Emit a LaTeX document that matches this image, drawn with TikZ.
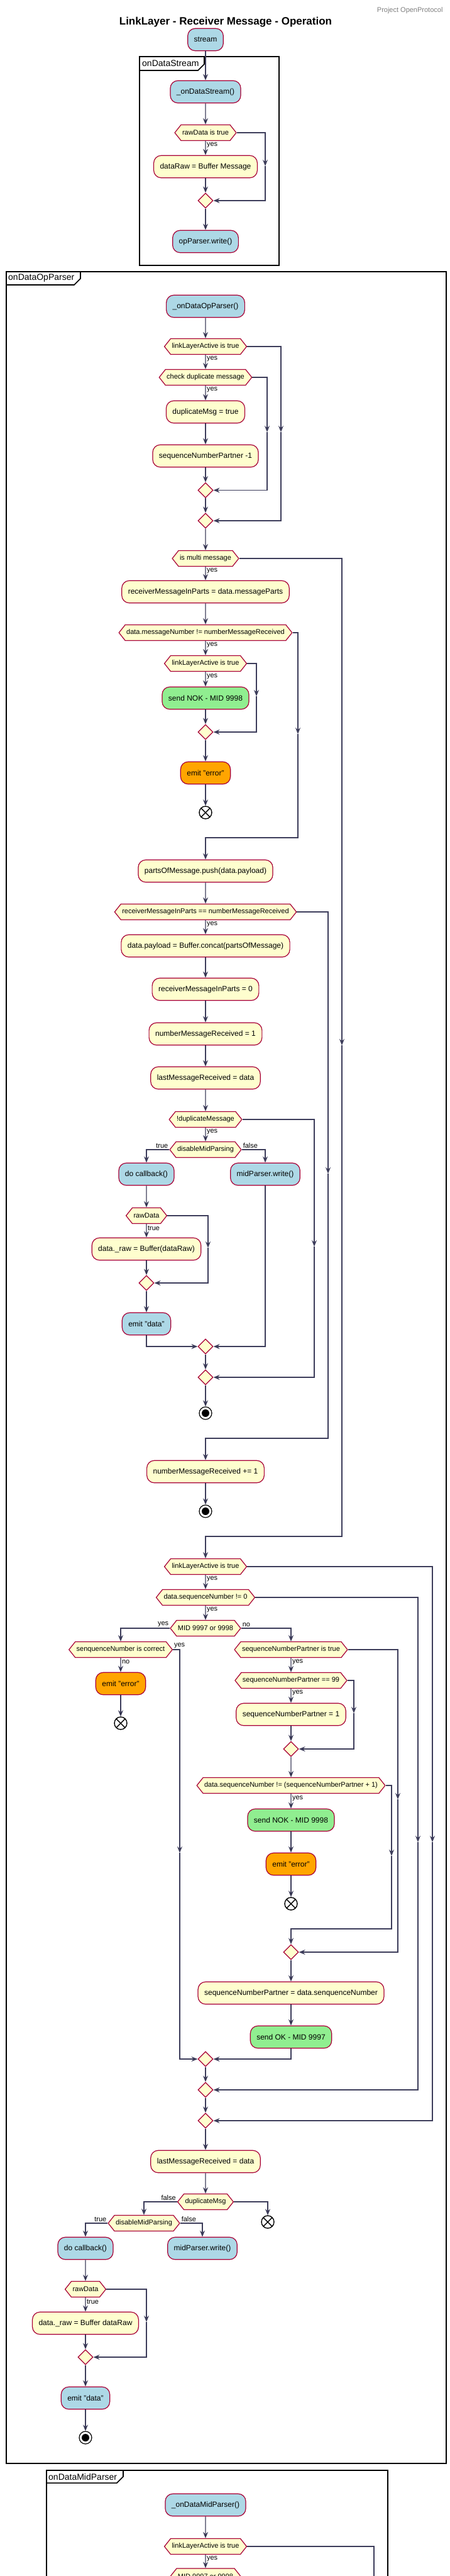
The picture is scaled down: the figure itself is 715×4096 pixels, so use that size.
\documentclass[tikz,border=0pt]{standalone}
\usepackage{fontspec}
\setmainfont{Liberation Sans}
\usetikzlibrary{arrows.meta}
\usetikzlibrary{shapes.geometric}
\usetikzlibrary{shapes.symbols}

\definecolor{bordc}{HTML}{A80036}
\definecolor{yelc}{HTML}{FEFECE}
\definecolor{bluec}{HTML}{ADD8E6}
\definecolor{greenc}{HTML}{90EE90}
\definecolor{orangec}{HTML}{FFA500}
\definecolor{linec}{HTML}{3C3C5A}

\begin{document}
\begin{tikzpicture}[
	x=1pt, y=-1pt,
	font=\fontsize{12}{14}\selectfont
]
\tikzset{
    actnode/.style = {rectangle, rounded corners=12pt, draw=bordc, line width=1.2pt, fill=yelc, minimum height=35.5pt, inner xsep=10pt, inner ysep=0pt},
    bluenode/.style = {actnode, fill=bluec},
    greennode/.style = {actnode, fill=greenc},
    orangenode/.style = {actnode, fill=orangec},
    decnode/.style = {signal, signal to=east and west, signal pointer angle=103, draw=bordc, line width=1.2pt, fill=yelc, minimum height=25pt, inner xsep=2pt, inner ysep=0pt, font=\fontsize{11}{13}\selectfont},
    mrgnode/.style = {diamond, draw=bordc, line width=1.2pt, fill=yelc, minimum width=24pt, minimum height=24pt, inner sep=0pt},
    endnode/.style = {circle, draw=black, fill=white, line width=1.2pt, minimum size=20pt, inner sep=0pt, path picture={\fill[black] (path picture bounding box.center) circle (6pt);}},
    stopnode/.style = {circle, draw=black, fill=white, line width=1.4pt, minimum size=20pt, inner sep=0pt, path picture={\draw[line width=1.4pt] ([shift={(-7pt,-7pt)}]path picture bounding box.center) -- ([shift={(7pt,7pt)}]path picture bounding box.center) ([shift={(-7pt,7pt)}]path picture bounding box.center) -- ([shift={(7pt,-7pt)}]path picture bounding box.center);}},
    edgea/.style = {draw=linec, line width=1.2pt, -{Stealth[length=10pt,width=8pt,inset=3.5pt]}},
    edgel/.style = {draw=linec, line width=1.2pt},
    lab/.style = {font=\fontsize{11}{13}\selectfont, inner sep=1.5pt},
    framel/.style = {draw=black, line width=1.6pt},
    framelab/.style = {anchor=west, font=\fontsize{14}{16}\selectfont, inner sep=0pt}
}
\useasboundingbox (0,0) rectangle (715,4096);
\clip (0,0) rectangle (715,4096);
\fill[white] (0,0) rectangle (715,4096);
%
\node[anchor=east, text=gray, font=\fontsize{11}{13}\selectfont] at (708,17) (proj) {Project OpenProtocol};
\node[font=\fontsize{17}{20}\selectfont\bfseries] at (359,35) (title) {LinkLayer - Receiver Message - Operation};
%
% onDataStream
\draw[framel] (222,90) rectangle (444,422);
\draw[framel] (222,112) -- (315,112) -- (325,102) -- (325,90);
\node[framelab] at (226,101) (fr1) {onDataStream};
\node[bluenode] at (327,63) (stream) {stream};
\node[bluenode] at (327,146) (ods) {\_onDataStream()};
\node[decnode] at (327,211) (d1) {rawData is true};
\node[actnode] at (327,265) (a1) {dataRaw = Buffer Message};
\node[mrgnode] at (327,319) (m1) {};
\node[bluenode] at (327,384) (opw) {opParser.write()};
\coordinate (b1) at (422,264);
%
\draw[edgea] (stream) edge (ods);
\draw[edgea] (ods) edge (d1);
\draw[edgea] (d1) edge node[lab,right,pos=0.3] {yes} (a1);
\draw[edgea] (a1) edge (m1);
\draw[edgea] (m1) edge (opw);
\draw[edgea] (d1.east) -| (b1);
\draw[edgea] (b1) |- (m1);
%
% onDataOpParser
\draw[framel] (10,432) rectangle (710,3917);
\draw[framel] (10,453) -- (118,453) -- (128,443) -- (128,432);
\node[framelab] at (13,442) (fr2) {onDataOpParser};
\node[bluenode] at (327,487) (odop) {\_onDataOpParser()};
\node[decnode] at (327,551) (d2) {linkLayerActive is true};
\node[decnode] at (327,600) (d3) {check duplicate message};
\node[actnode] at (327,655) (a2) {duplicateMsg = true};
\node[actnode] at (327,725) (a3) {sequenceNumberPartner -1};
\node[mrgnode] at (327,779.5) (m2) {};
\node[mrgnode] at (327,828) (m3) {};
\coordinate (b2) at (447,687);
\coordinate (b3) at (425,687);
%
\draw[edgea] (odop) edge (d2);
\draw[edgea] (d2) edge node[lab,right,pos=0.3] {yes} (d3);
\draw[edgea] (d3) edge node[lab,right,pos=0.3] {yes} (a2);
\draw[edgea] (a2) edge (a3);
\draw[edgea] (a3) edge (m2);
\draw[edgea] (m2) edge (m3);
\draw[edgea] (d3.east) -| (b3);
\draw[edgea] (b3) |- (m2);
\draw[edgea] (d2.east) -| (b2);
\draw[edgea] (b2) |- (m3);
%
\node[decnode] at (327,888) (d4) {is multi message};
\node[actnode] at (327,941) (a4) {receiverMessageInParts = data.messageParts};
\node[decnode] at (327,1006) (d5) {data.messageNumber != numberMessageReceived};
\node[decnode] at (327,1055) (d6) {linkLayerActive is true};
\node[greennode] at (327,1110) (a5) {send NOK - MID 9998};
\node[mrgnode] at (327,1164) (m4) {};
\node[orangenode] at (327,1229) (a6) {emit "error"};
\node[stopnode] at (327,1292) (s1) {};
\node[actnode] at (327,1385) (a7) {partsOfMessage.push(data.payload)};
\coordinate (b4) at (544,1662);
\coordinate (b4e) at (544,2443);
\coordinate (b5) at (474,1167);
\coordinate (b5e) at (474,1332);
\coordinate (b6) at (408,1107);
%
\draw[edgea] (m3) edge (d4);
\draw[edgea] (d4) edge node[lab,right,pos=0.3] {yes} (a4);
\draw[edgea] (a4) edge (d5);
\draw[edgea] (d5) edge node[lab,right,pos=0.3] {yes} (d6);
\draw[edgea] (d6) edge node[lab,right,pos=0.3] {yes} (a5);
\draw[edgea] (a5) edge (m4);
\draw[edgea] (m4) edge (a6);
\draw[edgea] (a6) edge (s1);
\draw[edgea] (d6.east) -| (b6);
\draw[edgea] (b6) |- (m4);
\draw[edgea] (d5.east) -| (b5);
\draw[edgea] (b5) -- (b5e) -| (a7);
%
\node[decnode] at (327,1450) (d7) {receiverMessageInParts == numberMessageReceived};
\node[actnode] at (327,1504) (a8) {data.payload = Buffer.concat(partsOfMessage)};
\node[actnode] at (327,1573) (a9) {receiverMessageInParts = 0};
\node[actnode] at (327,1644) (a10) {numberMessageReceived = 1};
\node[actnode] at (327,1714) (a11) {lastMessageReceived = data};
\node[decnode] at (327,1780) (d8) {!duplicateMessage};
\node[decnode] at (327,1828) (d9) {disableMidParsing};
\node[bluenode] at (233,1867) (a12) {do callback()};
\node[bluenode] at (422,1867) (a13) {midParser.write()};
\node[decnode] at (233,1933) (d10) {rawData};
\node[actnode] at (233,1986) (a14) {data.\_raw = Buffer(dataRaw)};
\node[mrgnode] at (233,2040) (m5) {};
\node[bluenode] at (233,2105) (a15) {emit "data"};
\node[mrgnode] at (327,2141) (m6) {};
\node[mrgnode] at (327,2190) (m7) {};
\node[endnode] at (327,2247) (e1) {};
\node[actnode] at (327,2340) (a16) {numberMessageReceived += 1};
\node[endnode] at (327,2403) (e2) {};
\coordinate (b7) at (522,1866);
\coordinate (b7e) at (522,2287);
\coordinate (b8) at (500,1982);
\coordinate (b9) at (331,1984);
%
\draw[edgea] (a7) edge (d7);
\draw[edgea] (d7) edge node[lab,right,pos=0.3] {yes} (a8);
\draw[edgea] (a8) edge (a9);
\draw[edgea] (a9) edge (a10);
\draw[edgea] (a10) edge (a11);
\draw[edgea] (a11) edge (d8);
\draw[edgea] (d8) edge node[lab,right,pos=0.3] {yes} (d9);
\draw[edgea] (d9.west) -| node[lab,above left,pos=0] {true} (a12);
\draw[edgea] (d9.east) -| node[lab,above right,pos=0] {false} (a13);
\draw[edgea] (a12) edge (d10);
\draw[edgea] (d10) edge node[lab,right,pos=0.3] {true} (a14);
\draw[edgea] (a14) edge (m5);
\draw[edgea] (m5) edge (a15);
\draw[edgea] (d10.east) -| (b9);
\draw[edgea] (b9) |- (m5);
\draw[edgea] (a15) |- (m6);
\draw[edgea] (a13) |- (m6);
\draw[edgea] (m6) edge (m7);
\draw[edgea] (d8.east) -| (b8);
\draw[edgea] (b8) |- (m7);
\draw[edgea] (m7) edge (e1);
\draw[edgea] (d7.east) -| (b7);
\draw[edgea] (b7) -- (b7e) -| (a16);
\draw[edgea] (a16) edge (e2);
%
\node[decnode] at (327,2491) (d11) {linkLayerActive is true};
\node[decnode] at (327,2540) (d12) {data.sequenceNumber != 0};
\node[decnode] at (327,2589) (d13) {MID 9997 or 9998};
\node[decnode] at (192,2623) (d14) {senquenceNumber is correct};
\node[orangenode] at (192,2677) (a17) {emit "error"};
\node[stopnode] at (192,2740) (s2) {};
\node[decnode] at (463,2623) (d15) {sequenceNumberPartner is true};
\node[decnode] at (463,2672) (d16) {sequenceNumberPartner == 99};
\node[actnode] at (463,2726) (a18) {sequenceNumberPartner = 1};
\node[mrgnode] at (463,2781) (m8) {};
\node[decnode] at (463,2839) (d17) {data.sequenceNumber != (sequenceNumberPartner + 1)};
\node[greennode] at (463,2894) (a19) {send NOK - MID 9998};
\node[orangenode] at (463,2964) (a20) {emit "error"};
\node[stopnode] at (463,3027) (s3) {};
\node[mrgnode] at (463,3104) (m9) {};
\node[actnode] at (463,3169) (a21) {sequenceNumberPartner = data.senquenceNumber};
\node[greennode] at (463,3239) (a22) {send OK - MID 9997};
\node[mrgnode] at (327,3274) (m10) {};
\node[mrgnode] at (327,3323) (m11) {};
\node[mrgnode] at (327,3372) (m12) {};
\coordinate (b10) at (688,2929);
\coordinate (b11) at (665,2929);
\coordinate (b12) at (286,2946);
\coordinate (b13) at (633,2861);
\coordinate (b14) at (563,2724);
\coordinate (b15) at (623,2951);
\coordinate (b15e) at (623,3067);
%
\draw[edgea] (d4.east) -| (b4);
\draw[edgea] (b4) -- (b4e) -| (d11);
\draw[edgea] (d11) edge node[lab,right,pos=0.3] {yes} (d12);
\draw[edgea] (d12) edge node[lab,right,pos=0.3] {yes} (d13);
\draw[edgea] (d13.west) -| node[lab,above left,pos=0] {yes} (d14);
\draw[edgea] (d13.east) -| node[lab,above right,pos=0] {no} (d15);
\draw[edgea] (d14) edge node[lab,right,pos=0.3] {no} (a17);
\draw[edgea] (a17) edge (s2);
\draw[edgea] (d14.east) -| node[lab,above right,pos=0] {yes} (b12);
\draw[edgea] (b12) |- (m10);
\draw[edgea] (d15) edge node[lab,right,pos=0.3] {yes} (d16);
\draw[edgea] (d16) edge node[lab,right,pos=0.3] {yes} (a18);
\draw[edgea] (a18) edge (m8);
\draw[edgea] (d16.east) -| (b14);
\draw[edgea] (b14) |- (m8);
\draw[edgea] (m8) edge (d17);
\draw[edgea] (d17) edge node[lab,right,pos=0.3] {yes} (a19);
\draw[edgea] (a19) edge (a20);
\draw[edgea] (a20) edge (s3);
\draw[edgea] (d17.east) -| (b15);
\draw[edgea] (b15) -- (b15e) -| (m9);
\draw[edgea] (d15.east) -| (b13);
\draw[edgea] (b13) |- (m9);
\draw[edgea] (m9) edge (a21);
\draw[edgea] (a21) edge (a22);
\draw[edgea] (a22) |- (m10);
\draw[edgea] (m10) edge (m11);
\draw[edgea] (d12.east) -| (b11);
\draw[edgea] (b11) |- (m11);
\draw[edgea] (m11) edge (m12);
\draw[edgea] (d11.east) -| (b10);
\draw[edgea] (b10) |- (m12);
%
\node[actnode] at (327,3437) (a23) {lastMessageReceived = data};
\node[decnode] at (327,3501) (d18) {duplicateMsg};
\node[stopnode] at (426,3533) (s4) {};
\node[decnode] at (229,3535) (d19) {disableMidParsing};
\node[bluenode] at (136,3575) (a24) {do callback()};
\node[bluenode] at (322,3575) (a25) {midParser.write()};
\node[decnode] at (136,3640) (d20) {rawData};
\node[actnode] at (136,3694) (a26) {data.\_raw = Buffer dataRaw};
\node[mrgnode] at (136,3748) (m13) {};
\node[bluenode] at (136,3813) (a27) {emit "data"};
\node[endnode] at (136,3876) (e3) {};
\coordinate (b16) at (233,3692);
%
\draw[edgea] (m12) edge (a23);
\draw[edgea] (a23) edge (d18);
\draw[edgea] (d18.west) -| node[lab,above left,pos=0] {false} (d19);
\draw[edgea] (d18.east) -| (s4);
\draw[edgea] (d19.west) -| node[lab,above left,pos=0] {true} (a24);
\draw[edgea] (d19.east) -| node[lab,above right,pos=0] {false} (a25);
\draw[edgea] (a24) edge (d20);
\draw[edgea] (d20) edge node[lab,right,pos=0.3] {true} (a26);
\draw[edgea] (a26) edge (m13);
\draw[edgea] (d20.east) -| (b16);
\draw[edgea] (b16) |- (m13);
\draw[edgea] (m13) edge (a27);
\draw[edgea] (a27) edge (e3);
%
% onDataMidParser
\draw[framel] (74,3928) rectangle (617,4150);
\draw[framel] (74,3948) -- (186,3948) -- (196,3938) -- (196,3928);
\node[framelab] at (77,3938) (fr3) {onDataMidParser};
\node[bluenode] at (327,3983) (odmp) {\_onDataMidParser()};
\node[decnode] at (327,4049) (d21) {linkLayerActive is true};
\node[decnode] at (327,4096.5) (d22) {MID 9997 or 9998};
\coordinate (b17) at (595,4150);
\coordinate (b18) at (573,4150);
%
\draw[edgea] (odmp) edge (d21);
\draw[edgea] (d21) edge node[lab,right,pos=0.3] {yes} (d22);
\draw[edgel] (d21.east) -| (b17);
\draw[edgel] (d22.east) -| (b18);
\end{tikzpicture}
\end{document}
